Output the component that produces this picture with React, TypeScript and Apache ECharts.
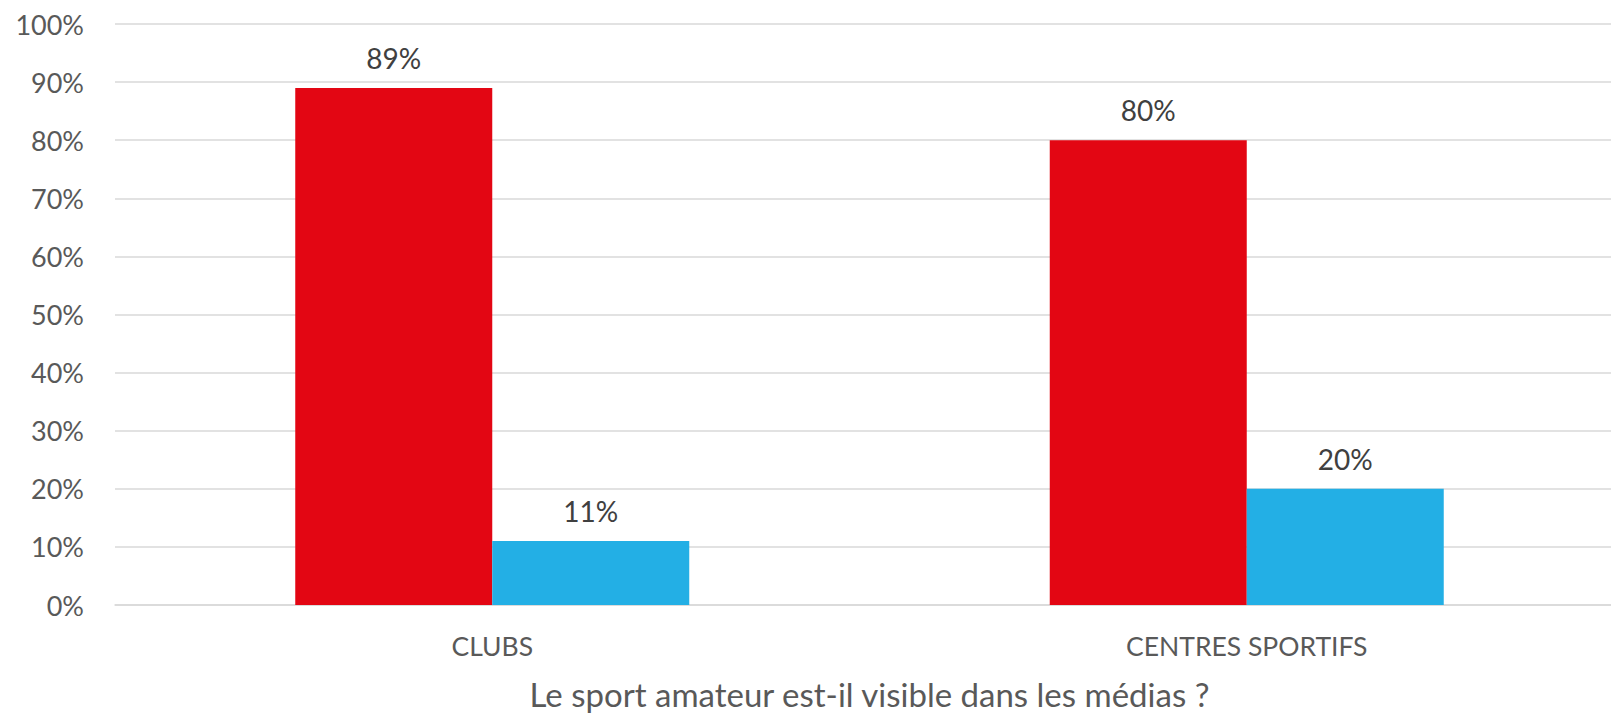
import React, { useEffect, useRef } from "react";
import * as echarts from "echarts";

const categories = ["CLUBS", "CENTRES SPORTIFS"];
const seriesNonValues = [89, 80];
const seriesOuiValues = [11, 20];
const yTicks = [0, 10, 20, 30, 40, 50, 60, 70, 80, 90, 100];
const axisTitle = "Le sport amateur est-il visible dans les médias ?";

const FONT = "Lato, 'Open Sans', sans-serif";

export default function App() {
  const ref = useRef<HTMLDivElement>(null);
  useEffect(() => {
    if (!ref.current) return;
    const chart = echarts.init(ref.current, null, { renderer: "svg" });
    chart.setOption({
      animation: false,
      backgroundColor: "#ffffff",
      textStyle: { fontFamily: FONT },
      grid: { left: 115, right: 0, top: 24, bottom: 110, containLabel: false },
      xAxis: {
        type: "category",
        data: categories,
        axisTick: { show: false },
        axisLine: { show: true, lineStyle: { color: "#D9D9D9", width: 1.5 } },
        axisLabel: { color: "#595959", fontSize: 26.5, margin: 27, fontFamily: FONT },
        name: axisTitle,
        nameLocation: "middle",
        nameGap: 72,
        nameTextStyle: { color: "#595959", fontSize: 33, fontFamily: FONT },
      },
      yAxis: {
        type: "value",
        min: yTicks[0],
        max: yTicks[yTicks.length - 1],
        interval: 10,
        axisLine: { show: false },
        axisTick: { show: false },
        splitLine: { show: true, lineStyle: { color: "#D9D9D9", width: 1.5 } },
        axisLabel: {
          color: "#595959",
          fontSize: 27,
          margin: 31,
          fontFamily: FONT,
          formatter: (v: number) => v + "%",
        },
      },
      series: [
        {
          name: "Non",
          type: "bar",
          data: seriesNonValues,
          barWidth: 197,
          barGap: "0%",
          itemStyle: { color: "#E30613" },
          label: {
            show: true,
            position: "top",
            distance: 16,
            color: "#404040",
            fontSize: 28,
            fontFamily: FONT,
            formatter: (p: any) => p.value + "%",
          },
        },
        {
          name: "Oui",
          type: "bar",
          data: seriesOuiValues,
          barWidth: 197,
          barGap: "0%",
          itemStyle: { color: "#23AFE5" },
          label: {
            show: true,
            position: "top",
            distance: 16,
            color: "#404040",
            fontSize: 28,
            fontFamily: FONT,
            formatter: (p: any) => p.value + "%",
          },
        },
      ],
    });
    return () => chart.dispose();
  }, []);
  return (
    <div style={{ position: "fixed", left: 0, top: 0, width: 1611, height: 715, overflow: "hidden", background: "#fff" }}>
      <div ref={ref} style={{ position: "absolute", left: 0, top: 0, width: 1624, height: 715 }} />
    </div>
  );
}
